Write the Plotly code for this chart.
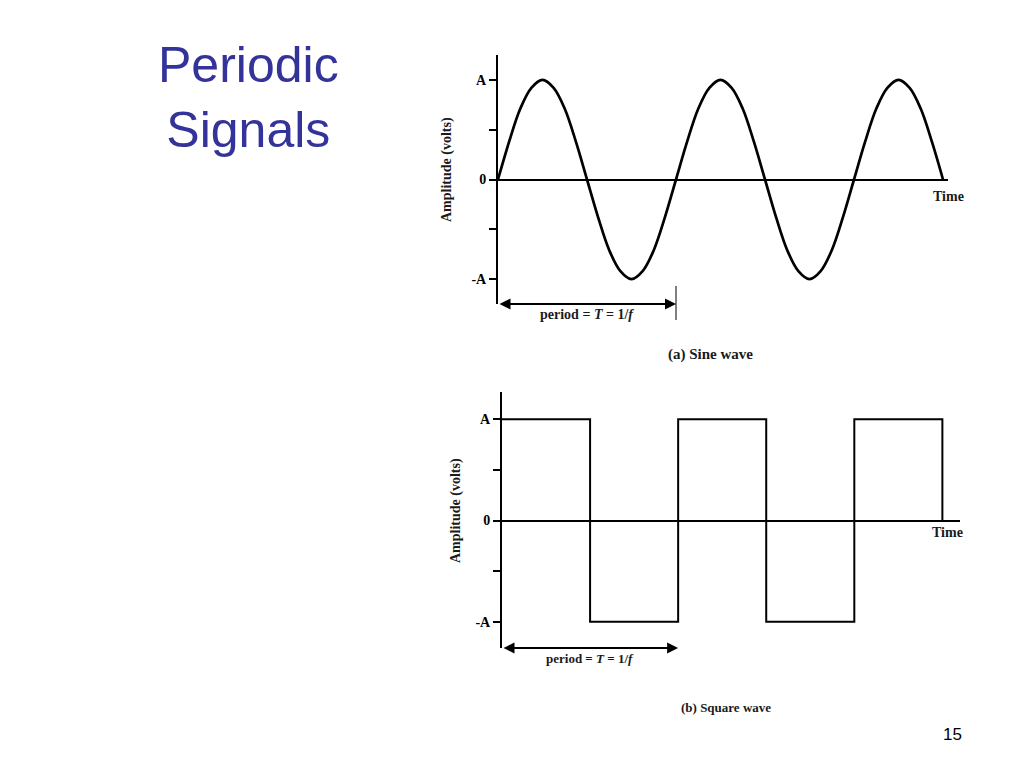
import plotly.graph_objects as go

# ---------------- data ----------------
# (a) sine wave: amplitude read at every sixteenth of a period (A = 1)
sine_t = [0, 0.0625, 0.125, 0.1875, 0.25, 0.3125, 0.375, 0.4375,
          0.5, 0.5625, 0.625, 0.6875, 0.75, 0.8125, 0.875, 0.9375,
          1.0, 1.0625, 1.125, 1.1875, 1.25, 1.3125, 1.375, 1.4375,
          1.5, 1.5625, 1.625, 1.6875, 1.75, 1.8125, 1.875, 1.9375,
          2.0, 2.0625, 2.125, 2.1875, 2.25, 2.3125, 2.375, 2.4375, 2.5]
sine_v = [0, 0.38, 0.71, 0.92, 1, 0.92, 0.71, 0.38,
          0, -0.38, -0.71, -0.92, -1, -0.92, -0.71, -0.38,
          0, 0.38, 0.71, 0.92, 1, 0.92, 0.71, 0.38,
          0, -0.38, -0.71, -0.92, -1, -0.92, -0.71, -0.38,
          0, 0.38, 0.71, 0.92, 1, 0.92, 0.71, 0.38, 0]

# (b) square wave corners
square_t = [0, 0.5, 0.5, 1, 1, 1.5, 1.5, 2, 2, 2.5, 2.5]
square_v = [1, 1, -1, -1, 1, 1, -1, -1, 1, 1, 0]

tick_vals = [-1, -0.5, 0, 0.5, 1]
tick_text = ["-A", "", "0", "", "A"]

period = 1.0
time_end_a = 2.528
time_end_b = 2.60
amp_lim_a = [-1.25, 1.25]
amp_lim_b = [-1.26, 1.27]

# ---------------- layout helpers ----------------
W, H = 1024, 768
def fx(p):
    return p / W
def fy(p):
    return 1 - p / H

SERIF = "Liberation Serif"
lab_font = dict(family=SERIF, size=14, color="black", weight="bold")
TXT = "#1a1a1a"

fig = go.Figure()
fig.add_trace(go.Scatter(x=sine_t, y=sine_v, mode="lines",
                         line=dict(color="black", width=2.7, shape="spline", smoothing=1.0),
                         xaxis="x", yaxis="y", hoverinfo="skip"))
fig.add_trace(go.Scatter(x=square_t, y=square_v, mode="lines",
                         line=dict(color="black", width=2),
                         xaxis="x2", yaxis="y2", hoverinfo="skip"))

hidden_x = dict(showgrid=False, zeroline=False, showline=False,
                showticklabels=False, ticks="")
amp_axis = dict(showgrid=False, showline=True, linewidth=2, linecolor="black",
                ticks="outside", ticklen=7, tickwidth=2, tickcolor="black",
                tickvals=tick_vals, ticktext=tick_text, tickfont=lab_font,
                zeroline=True, zerolinewidth=2, zerolinecolor="black")

fig.update_layout(
    width=W, height=H, margin=dict(l=0, r=0, t=0, b=0),
    paper_bgcolor="white", plot_bgcolor="white", showlegend=False,
    xaxis=dict(domain=[fx(498), fx(948)], range=[0, time_end_a], anchor="y", **hidden_x),
    yaxis=dict(domain=[fy(304), fy(55)], range=amp_lim_a, anchor="x", **amp_axis),
    xaxis2=dict(domain=[fx(502), fx(960)], range=[0, time_end_b], anchor="y2", **hidden_x),
    yaxis2=dict(domain=[fy(648), fy(392)], range=amp_lim_b, anchor="x2", **amp_axis),
)

period_text = "<b>period = <i>T</i> = 1/<i>f</i></b>"
ann = []
# period arrows and their labels
for xr, yr, ylo, fs in (("x", "y", amp_lim_a[0], 14), ("x2", "y2", amp_lim_b[0], 13)):
    ann.append(dict(x=period, y=ylo, ax=0, ay=ylo, xref=xr, yref=yr, axref=xr, ayref=yr,
                    text="", font=dict(size=1), showarrow=True, arrowhead=2,
                    arrowside="end+start", arrowsize=1.1, arrowwidth=2, arrowcolor="black"))
    ann.append(dict(x=period / 2, y=ylo, xref=xr, yref=yr, yshift=-10, text=period_text,
                    xanchor="center", yanchor="middle",
                    showarrow=False, font=dict(family=SERIF, size=fs, color=TXT)))
# Time labels
ann.append(dict(x=time_end_a, y=0, xref="x", yref="y", yshift=-17, text="<b>Time</b>",
                xanchor="center", yanchor="middle",
                showarrow=False, font=dict(family=SERIF, size=14, color=TXT)))
ann.append(dict(x=2.53, y=0, xref="x2", yref="y2", yshift=-12, text="<b>Time</b>",
                xanchor="center", yanchor="middle",
                showarrow=False, font=dict(family=SERIF, size=14, color=TXT)))
# axis titles
ann.append(dict(x=fx(447), y=fy(170), xref="paper", yref="paper", textangle=-90,
                xanchor="center", yanchor="middle",
                text="<b>Amplitude (volts)</b>", showarrow=False,
                font=dict(family=SERIF, size=14, color=TXT)))
ann.append(dict(x=fx(456), y=fy(511), xref="paper", yref="paper", textangle=-90,
                xanchor="center", yanchor="middle",
                text="<b>Amplitude (volts)</b>", showarrow=False,
                font=dict(family=SERIF, size=14, color=TXT)))
# captions
ann.append(dict(x=fx(710), y=fy(354), xref="paper", yref="paper",
                xanchor="center", yanchor="middle",
                text="<b>(a) Sine wave</b>", showarrow=False,
                font=dict(family=SERIF, size=15, color=TXT)))
ann.append(dict(x=fx(726), y=fy(707), xref="paper", yref="paper",
                xanchor="center", yanchor="middle",
                text="<b>(b) Square wave</b>", showarrow=False,
                font=dict(family=SERIF, size=13, color=TXT)))
# slide title and page number
ann.append(dict(x=fx(248), y=fy(97), xref="paper", yref="paper",
                xanchor="center", yanchor="middle",
                text="Periodic<br>Signals", showarrow=False, align="center",
                font=dict(family="Liberation Sans", size=50, color="#333399")))
ann.append(dict(x=fx(952), y=fy(734), xref="paper", yref="paper",
                xanchor="center", yanchor="middle",
                text="15", showarrow=False,
                font=dict(family="Liberation Sans", size=17, color="black")))
fig.update_layout(annotations=ann)

# vertical end mark of the sine-wave period arrow
fig.add_shape(type="line", xref="x", yref="paper", x0=period, x1=period,
              y0=fy(320), y1=fy(286), line=dict(color="#555", width=1.5))

fig.write_html("out.html", config={"displayModeBar": False},
               post_script="document.body.style.margin='0';")
